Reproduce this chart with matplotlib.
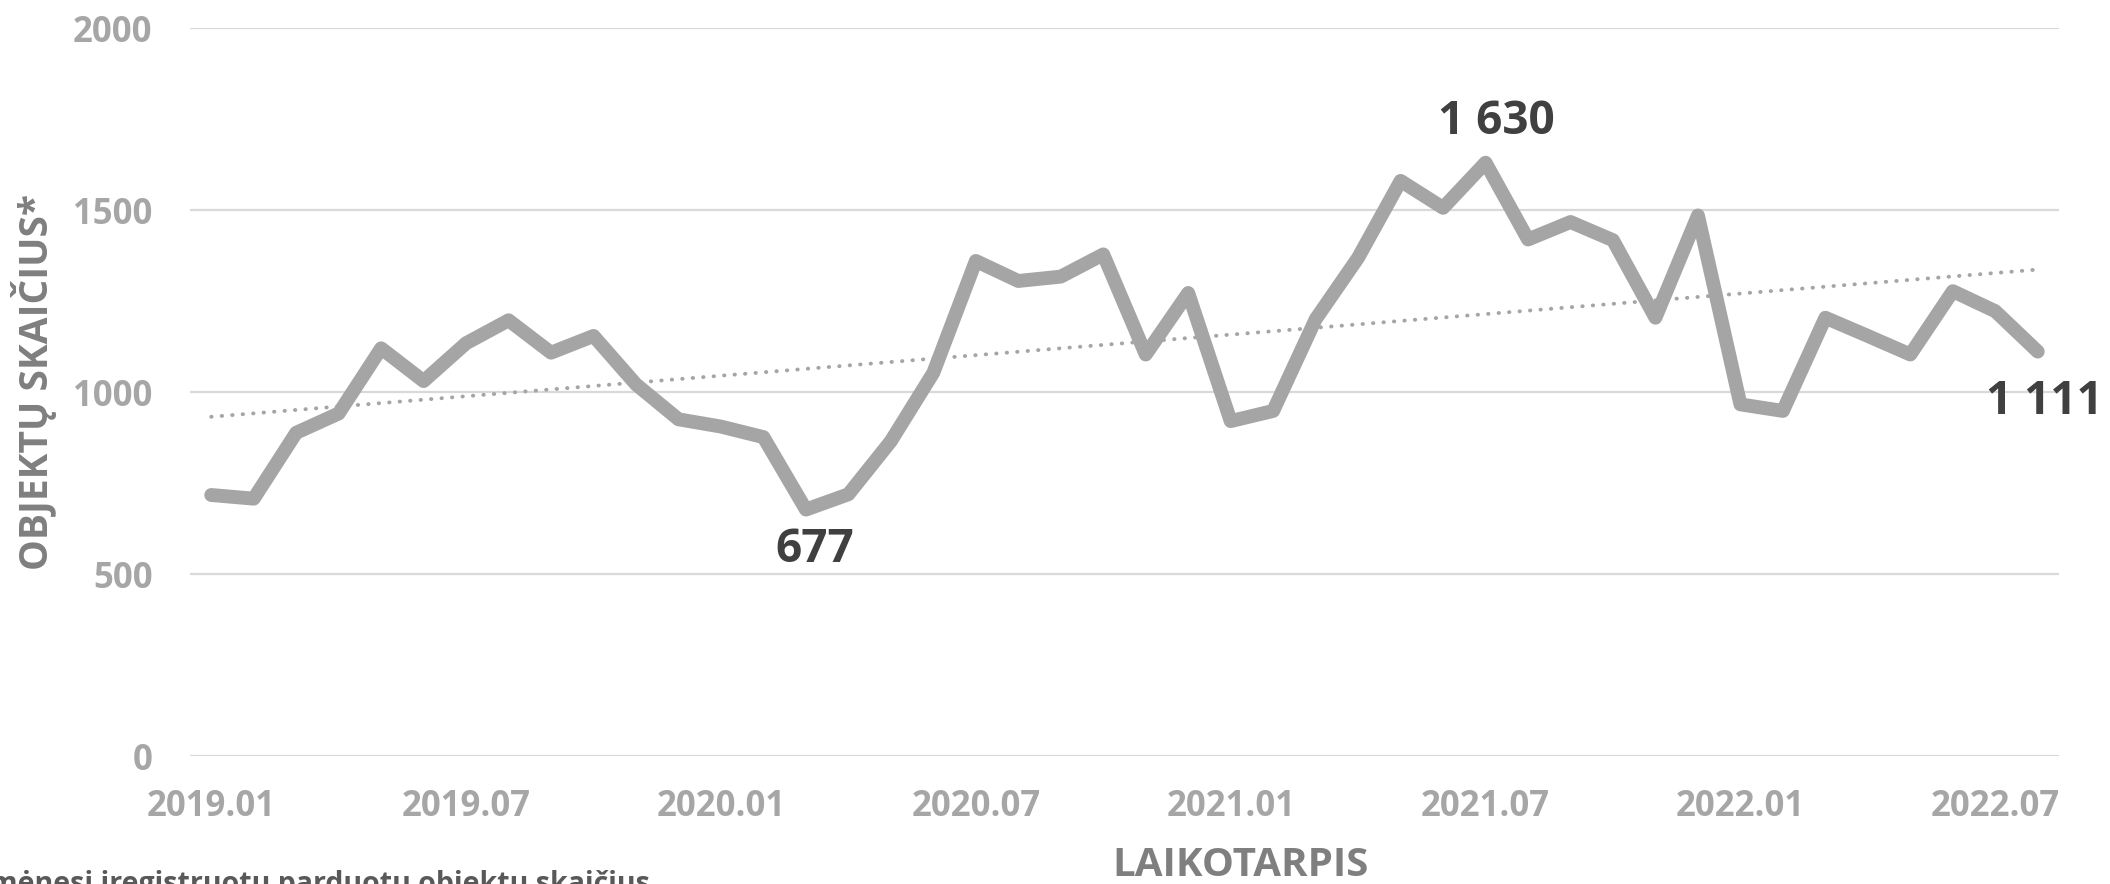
import numpy as np
import matplotlib
matplotlib.use('Agg')
import matplotlib.pyplot as plt

plt.rcParams['font.family'] = ['Open Sans', 'DejaVu Sans']
plt.rcParams['font.weight'] = 'bold'

months = [f"{y}.{m:02d}" for y in (2019, 2020, 2021, 2022) for m in range(1, 13)][:44]

counts = [717, 707, 888, 941, 1120, 1030, 1134, 1197,
          1108, 1154, 1021, 925, 905, 876, 677, 719,
          865, 1053, 1360, 1305, 1317, 1378, 1103, 1272,
          920, 948, 1200, 1369, 1580, 1506, 1630, 1419,
          1467, 1417, 1204, 1485, 966, 948, 1204, 1154,
          1103, 1277, 1222, 1111]

label_months = ["2019.01", "2019.07", "2020.01", "2020.07",
                "2021.01", "2021.07", "2022.01", "2022.07"]

# labelled points: (month, text, x offset px, y offset px)
callouts = [("2020.03", "677", 9, -40),
            ("2021.07", "1 630", 11, 41),
            ("2022.08", "1 111", 7, -50)]

line_col = '#A5A5A5'
tick_col = '#A6A6A6'
title_col = '#7F7F7F'

fig = plt.figure(figsize=(21.1, 8.84), dpi=100)
ax = fig.add_axes([190 / 2110, 1 - 756 / 884, (2059 - 190) / 2110, (756 - 28) / 884])

x = np.arange(len(months))
ax.plot(x, counts, color=line_col, lw=10, solid_capstyle='round',
        solid_joinstyle='round', zorder=3)

# linear trend line
k, b = np.polyfit(x, counts, 1)
ax.plot(x, k * x + b, color=line_col, lw=2.8, linestyle=(0, (0.1, 2.6)),
        dash_capstyle='round', zorder=2)

for m, txt, dx, dy in callouts:
    i = months.index(m)
    ax.annotate(txt, (i, counts[i]), xytext=(dx, dy), textcoords='offset pixels',
                ha='center', va='center', fontsize=33, fontweight='bold',
                color='#404040', annotation_clip=False, zorder=4)

ax.set_xlim(-0.5, len(months) - 0.5)
ax.set_ylim(0, 2000)
ax.set_yticks([0, 500, 1000, 1500, 2000])
ax.set_xticks([months.index(m) for m in label_months])
ax.set_xticklabels(label_months)
ax.grid(axis='y', color='#D9D9D9', lw=1.6)
ax.set_axisbelow(True)
ax.tick_params(length=0, labelsize=25, labelcolor=tick_col)
ax.tick_params(axis='y', pad=27)
ax.tick_params(axis='x', pad=24)
for lab in ax.get_xticklabels() + ax.get_yticklabels():
    lab.set_fontweight('bold')
for s in ax.spines.values():
    s.set_visible(False)

fig.text(34 / 2110, 1 - 382 / 884, "OBJEKTŲ SKAIČIUS*", rotation=90,
         ha='center', va='center', fontsize=28, fontweight='bold', color=title_col)
fig.text(1241 / 2110, 1 - 866 / 884, "LAIKOTARPIS", ha='center', va='center',
         fontsize=29, fontweight='bold', color=title_col)
fig.text(650 / 2110, 1 - 870 / 884, "*Per mėnesį įregistruotų parduotų objektų skaičius",
         ha='right', va='top', fontsize=20.5, fontweight='bold', color='#595959')

fig.savefig('out.png', dpi=100, facecolor='white')
